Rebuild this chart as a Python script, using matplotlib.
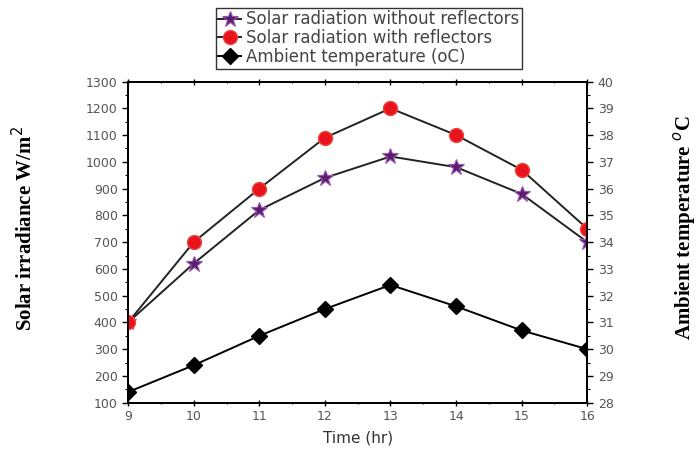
import matplotlib
matplotlib.use("Agg")
import matplotlib.pyplot as plt
from matplotlib.ticker import MultipleLocator

hours = [9, 10, 11, 12, 13, 14, 15, 16]
without_refl = [400, 620, 820, 940, 1020, 980, 880, 700]
with_refl = [400, 700, 900, 1090, 1200, 1100, 970, 750]
ambient_temp = [28.4, 29.4, 30.5, 31.5, 32.4, 31.6, 30.7, 30.0]

plt.rcParams['font.family'] = ['DejaVu Sans']

fig = plt.figure(figsize=(7, 4.53), dpi=100)
ax = fig.add_axes([0.183, 0.111, 0.656, 0.709])
ax2 = ax.twinx()

tick_col = '#555555'

l1, = ax.plot(hours, without_refl, '-', color='#222222', lw=1.4, marker='*',
              ms=12, mfc='#5a1d70', mec='#9a55b0', mew=0.8, zorder=3)
l2, = ax.plot(hours, with_refl, '-', color='#222222', lw=1.4, marker='o',
              ms=10, mfc='#e8141c', mec='#f04040', zorder=3)
l3, = ax2.plot(hours, ambient_temp, '-', color='black', lw=1.4, marker='D',
               ms=8.5, mfc='black', mec='black', zorder=3)

ax.set_xlim(9, 16)
ax.set_ylim(100, 1300)
ax2.set_ylim(28, 40)

ax.xaxis.set_major_locator(MultipleLocator(1))
ax.xaxis.set_minor_locator(MultipleLocator(0.5))
ax.yaxis.set_major_locator(MultipleLocator(100))
ax.yaxis.set_minor_locator(MultipleLocator(50))
ax2.yaxis.set_major_locator(MultipleLocator(1))
ax2.yaxis.set_minor_locator(MultipleLocator(0.5))

for a in (ax, ax2):
    for s in a.spines.values():
        s.set_linewidth(1.3)
ax.tick_params(axis='both', which='major', direction='out', length=4, width=1,
               labelsize=9, labelcolor=tick_col)
ax.tick_params(axis='both', which='minor', direction='out', length=2, width=0.8)
ax.tick_params(axis='x', which='both', top=True, direction='inout')
ax2.tick_params(axis='y', which='major', direction='out', length=4, width=1,
                labelsize=9, labelcolor=tick_col)
ax2.tick_params(axis='y', which='minor', direction='out', length=2, width=0.8)

ax.set_xlabel('Time (hr)', fontsize=11, color='#333333', labelpad=5)
fig.text(0.035, 0.495, 'Solar irradiance W/m$^2$', rotation=90, ha='center', va='center',
         fontsize=15, fontweight='bold', family=['Liberation Serif', 'DejaVu Serif'])
fig.text(0.978, 0.497, 'Ambient temperature $^o$C', rotation=90, ha='center', va='center',
         fontsize=15, fontweight='bold', family=['Liberation Serif', 'DejaVu Serif'])

leg = fig.legend([l1, l2, l3],
                 ['Solar radiation without reflectors', 'Solar radiation with reflectors',
                  'Ambient temperature (oC)'],
                 loc='upper center', bbox_to_anchor=(0.527, 0.99), fontsize=12,
                 frameon=True, fancybox=False, edgecolor='black', handlelength=1.4,
                 handletextpad=0.3, labelspacing=0.05, borderpad=0.15,
                 borderaxespad=0.2)
leg.get_frame().set_linewidth(1.0)
for t in leg.get_texts():
    t.set_color('#444444')

fig.savefig('out.png', dpi=100)
